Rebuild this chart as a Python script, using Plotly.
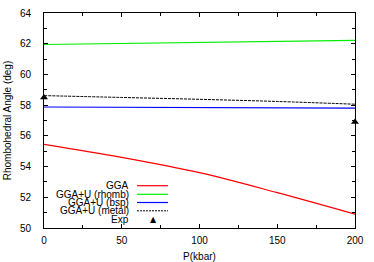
import plotly.graph_objects as go

pressure = [0, 50, 100, 150, 200]
gga = [55.45, 54.6, 53.6, 52.3, 50.9]
gga_u_rhomb = [61.95, 62.02, 62.08, 62.15, 62.22]
gga_u_bsp = [57.88, 57.86, 57.84, 57.82, 57.80]
gga_u_metal = [58.62, 58.50, 58.38, 58.24, 58.06]
exp_p = [0, 200]
exp_angle = [58.5, 56.9]

legend_labels = ["GGA", "GGA+U (rhomb)", "GGA+U (bsp)", "GGA+U (metal)", "Exp"]
colors = ["#ff0000", "#00ee00", "#0000ff", "#000000"]

FONT = "Liberation Sans, Arial, sans-serif"

fig = go.Figure()
fig.add_trace(go.Scatter(x=pressure, y=gga, mode="lines", line=dict(color=colors[0], width=1.2, shape="spline")))
fig.add_trace(go.Scatter(x=pressure, y=gga_u_rhomb, mode="lines", line=dict(color=colors[1], width=1.2)))
fig.add_trace(go.Scatter(x=pressure, y=gga_u_bsp, mode="lines", line=dict(color=colors[2], width=1.2)))
fig.add_trace(go.Scatter(x=pressure, y=gga_u_metal, mode="lines", line=dict(color=colors[3], width=1, dash="3px,1px", shape="spline")))
fig.add_trace(go.Scatter(x=exp_p, y=exp_angle, mode="markers", marker=dict(symbol="triangle-up", size=7, color="black"), cliponaxis=False))

# plot area in pixels: left 44, right 355, top 13, bottom 228
W, H = 374, 262
L, R, T, B = 44, 355, 13, 228
pw, ph = R - L, B - T

def px_x(px):
    return (px - L) / pw

def px_y(py):
    return (B - py) / ph

rows = [185.7, 194.3, 202.5, 210.8, 219.3]
text_right = 130
for i, lab in enumerate(legend_labels):
    fig.add_annotation(x=px_x(text_right), y=px_y(rows[i]), xref="paper", yref="paper",
                       text=lab, showarrow=False, xanchor="right", yanchor="middle",
                       borderpad=0, font=dict(family=FONT, size=10, color="black"))
    if i < 4:
        fig.add_shape(type="line", xref="paper", yref="paper",
                      x0=px_x(137), x1=px_x(168), y0=px_y(rows[i]), y1=px_y(rows[i]),
                      line=dict(color=colors[i], width=1.2 if i < 3 else 1,
                                dash="solid" if i < 3 else "2px,1px"))
    else:
        fig.add_annotation(x=px_x(153), y=px_y(rows[i]), xref="paper", yref="paper",
                           text="▲", showarrow=False, xanchor="center", yanchor="middle",
                           borderpad=0, font=dict(family="DejaVu Sans", size=8, color="black"))

axis_common = dict(
    showline=True, linecolor="black", linewidth=1, mirror="allticks",
    ticks="inside", ticklen=4, tickcolor="black", tickwidth=1,
    showgrid=False, zeroline=False, automargin=False,
    tickfont=dict(family=FONT, size=10, color="black"),
)

fig.update_xaxes(range=[0, 200], tickvals=[0, 50, 100, 150, 200],
                 minor=dict(tickvals=[25, 75, 125, 175], ticks="inside", ticklen=3, tickcolor="black"),
                 ticklabelstandoff=3,
                 title=dict(text="P(kbar)", font=dict(family=FONT, size=10, color="black"), standoff=8),
                 **axis_common)
fig.update_yaxes(range=[50, 64], tickvals=[50, 52, 54, 56, 58, 60, 62, 64],
                 minor=dict(tickvals=[51, 53, 55, 57, 59, 61, 63], ticks="inside", ticklen=3, tickcolor="black"),
                 ticklabelstandoff=10,
                 title=dict(text="Rhombohedral Angle (deg)", font=dict(family=FONT, size=10, color="black"), standoff=6),
                 **axis_common)

fig.update_layout(width=W, height=H, margin=dict(l=L, r=W - R, t=T, b=H - B),
                  paper_bgcolor="white", plot_bgcolor="white", showlegend=False)

fig.write_html("out.html", config={"displayModeBar": False},
               post_script="document.body.style.margin='0';document.body.style.overflow='hidden';")
